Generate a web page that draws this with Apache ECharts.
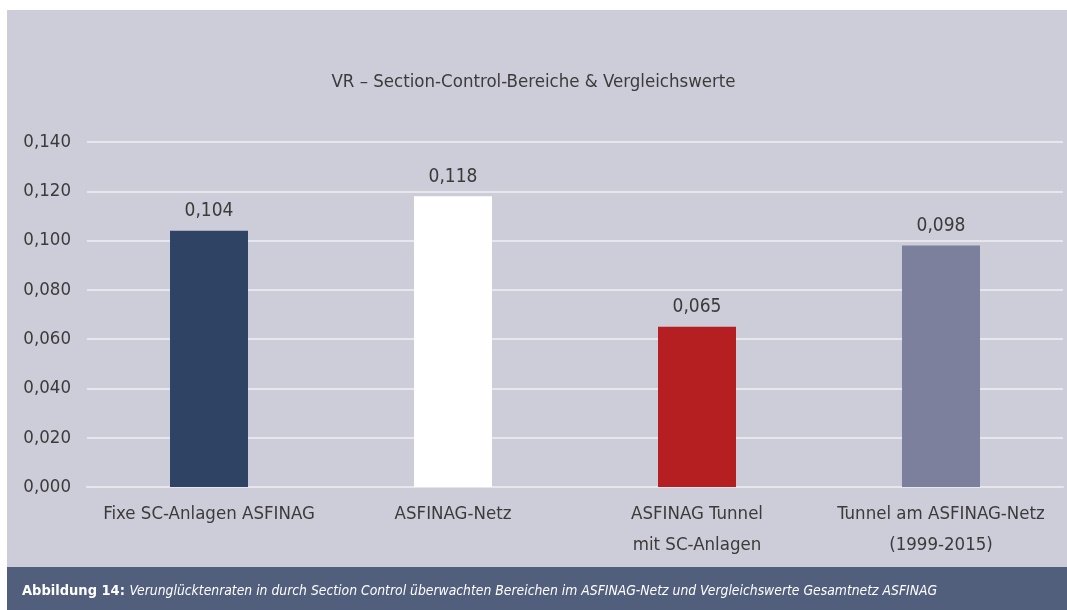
<!DOCTYPE html>
<html>
<head>
<meta charset="utf-8">
<script src="https://cdn.jsdelivr.net/npm/echarts@6/dist/echarts.min.js"></script>
<style>
html,body{margin:0;padding:0;background:#ffffff;}
#chart{width:1067px;height:610px;}
</style>
</head>
<body>
<div id="chart"></div>
<script>
const titleText = 'VR – Section-Control-Bereiche & Vergleichswerte';
const categories = ['Fixe SC-Anlagen ASFINAG', 'ASFINAG-Netz', 'ASFINAG Tunnel\nmit SC-Anlagen', 'Tunnel am ASFINAG-Netz\n(1999-2015)'];
const values = [0.104, 0.118, 0.065, 0.098];
const barColors = ['#2f4464', '#ffffff', '#b51f22', '#7c809c'];
const captionBold = 'Abbildung 14: ';
const captionItalic = 'Verunglücktenraten in durch Section Control überwachten Bereichen im ASFINAG-Netz und Vergleichswerte Gesamtnetz ASFINAG';

const FONT = "'Liberation Sans Narrow', 'DejaVu Sans Condensed', sans-serif";
const fmt = v => v.toFixed(3).replace('.', ',');

const chart = echarts.init(document.getElementById('chart'), null, {renderer: 'canvas'});
chart.setOption({
  animation: false,
  backgroundColor: '#ffffff',
  textStyle: {fontFamily: FONT},
  graphic: [
    {type: 'rect', z: -10, shape: {x: 7, y: 10, width: 1060, height: 557}, style: {fill: '#cccdd8'}},
    {type: 'rect', z: -10, shape: {x: 7, y: 567, width: 1060, height: 43}, style: {fill: '#525f7c'}},
    {
      type: 'text', left: 22, top: 584, z: 10,
      style: {
        text: '{b|' + captionBold + '}{i|' + captionItalic + '}',
        rich: {
          b: {fontFamily: FONT, fontWeight: 'bold', fontSize: 14.5, fill: '#ffffff', color: '#ffffff'},
          i: {fontFamily: FONT, fontStyle: 'italic', fontSize: 13.8, fill: '#ffffff', color: '#ffffff'}
        }
      }
    }
  ],
  title: {
    text: titleText,
    left: 'center',
    top: 68,
    textStyle: {fontFamily: FONT, fontSize: 18.5, fontWeight: 'normal', color: '#3b3b3b'}
  },
  grid: {left: 87, right: 4, top: 142, bottom: 123, containLabel: false},
  xAxis: {
    type: 'category',
    data: categories,
    axisLine: {show: true, lineStyle: {color: '#e6e6ec', width: 2}},
    axisTick: {show: false},
    axisLabel: {fontFamily: FONT, fontSize: 18.5, color: '#3b3b3b', margin: 12, lineHeight: 31, interval: 0}
  },
  yAxis: {
    type: 'value',
    min: 0, max: 0.14, interval: 0.02,
    axisLine: {show: false},
    axisTick: {show: false},
    splitLine: {lineStyle: {color: '#e6e6ec', width: 2}},
    axisLabel: {fontFamily: FONT, fontSize: 18.5, color: '#3b3b3b', margin: 16, formatter: fmt}
  },
  series: [{
    type: 'bar',
    barWidth: 78,
    data: values.map((v, i) => ({value: v, itemStyle: {color: barColors[i]}})),
    label: {
      show: true, position: 'top', distance: 10,
      fontFamily: FONT, fontSize: 19, color: '#3b3b3b',
      formatter: p => fmt(p.value)
    }
  }]
});
</script>
</body>
</html>
